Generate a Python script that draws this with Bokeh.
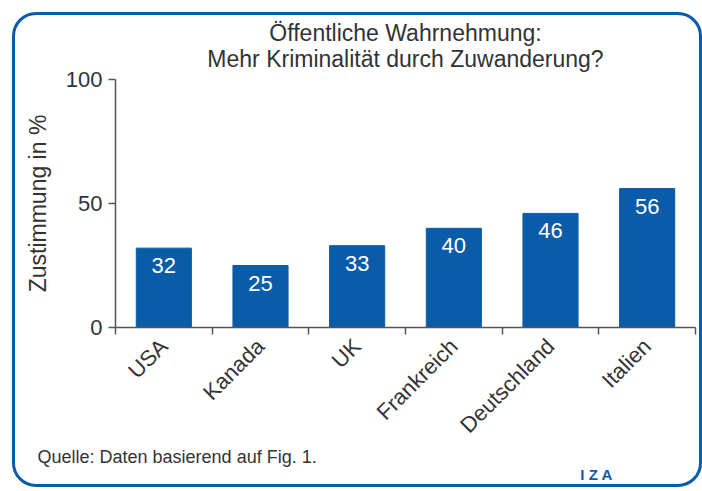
import numpy as np
from bokeh.plotting import figure
from bokeh.models import Range1d, FixedTicker, Title, ColumnDataSource
from bokeh.embed import file_html
from bokeh.resources import INLINE

countries = ["USA", "Kanada", "UK", "Frankreich", "Deutschland", "Italien"]
values = [32, 25, 33, 40, 46, 56]
y_ticks = [0, 50, 100]
title_lines = ["Öffentliche Wahrnehmung:", "Mehr Kriminalität durch Zuwanderung?"]
y_label = "Zustimmung in %"
source_note = "Quelle: Daten basierend auf Fig. 1."
logo_text = "I   Z   A"

# outer box (incl. 3px border) on the page
BX, BY, BW, BH, BORDER = 12, 12, 690, 475, 3
OX, OY = BX + BORDER, BY + BORDER          # page offset of canvas
PFL, PFR, PFT, PFB = 115, 695, 79, 327     # frame edges on the page
FONT = "Liberation Sans"
TXT = "#333333"
AX = "#555555"
BLUE = "#0A5CA8"

centers = np.arange(len(countries)) + 0.5
src = ColumnDataSource(dict(x=centers, top=values, lab=[str(v) for v in values]))

p = figure(width=BW, height=BH, output_backend="svg", toolbar_location=None,
           x_range=Range1d(0, len(countries)), y_range=Range1d(0, 100),
           min_border_left=PFL - OX, min_border_right=BW - (PFR - OX),
           min_border_top=PFT - OY, min_border_bottom=BH - (PFB - OY),
           styles={"margin-left": f"{BX}px", "margin-top": f"{BY}px",
                   "border": f"{BORDER}px solid {BLUE}", "border-radius": "24px",
                   "overflow": "hidden"})
p.outline_line_color = None
p.grid.visible = False
p.background_fill_color = "white"
p.border_fill_color = None

p.vbar(x="x", top="top", width=0.57, bottom=0, source=src, color=BLUE)
p.text(x="x", y="top", text="lab", source=src, text_color="white", text_align="center",
       text_baseline="top", y_offset=10, text_font_size="22px",
       text_font={"value": FONT})

# axes
xa = p.xaxis[0]
xa.ticker = FixedTicker(ticks=list(centers), minor_ticks=list(range(len(countries) + 1)))
xa.major_label_overrides = {float(c): n for c, n in zip(centers, countries)}
xa.major_tick_out = 0
xa.major_tick_in = 0
xa.minor_tick_out = 7
xa.minor_tick_in = 0
xa.minor_tick_line_color = AX
xa.minor_tick_line_width = 1.5
xa.axis_line_color = AX
xa.axis_line_width = 1.5
xa.major_label_orientation = np.pi / 4
xa.major_label_text_font = FONT
xa.major_label_text_font_size = "22px"
xa.major_label_text_color = TXT
xa.major_label_standoff = 8

ya = p.yaxis[0]
ya.ticker = FixedTicker(ticks=y_ticks)
ya.major_tick_out = 7
ya.major_tick_in = 0
ya.minor_tick_out = 0
ya.minor_tick_in = 0
ya.major_tick_line_color = AX
ya.major_tick_line_width = 1.5
ya.axis_line_color = AX
ya.axis_line_width = 1.5
ya.major_label_text_font = FONT
ya.major_label_text_font_size = "22px"
ya.major_label_text_color = TXT
ya.major_label_standoff = 6
ya.axis_label = y_label
ya.axis_label_text_font = FONT
ya.axis_label_text_font_size = "23px"
ya.axis_label_text_font_style = "normal"
ya.axis_label_text_color = TXT
ya.axis_label_standoff = 12

# title: p.title is the outer line, the added Title sits next to the frame
p.title.text = title_lines[0]
p.title.align = "center"
p.title.text_font = FONT
p.title.text_font_size = "23px"
p.title.text_font_style = "normal"
p.title.text_color = TXT
p.title.standoff = -18
p.add_layout(Title(text=title_lines[1], align="center", text_font=FONT,
                   text_font_size="23px", text_font_style="normal",
                   text_color=TXT, standoff=15), "above")

# source note and logo below the axis
p.add_layout(Title(text=source_note, align="left", offset=37 - PFL, text_font=FONT,
                   text_font_size="18px", text_font_style="normal",
                   text_color=TXT, standoff=-9), "below")
p.add_layout(Title(text=logo_text, align="right", offset=PFR - 629, text_font=FONT,
                   text_font_size="15px", text_font_style="bold",
                   text_color=BLUE, standoff=3), "below")

open("out.html", "w").write(file_html(p, INLINE))
